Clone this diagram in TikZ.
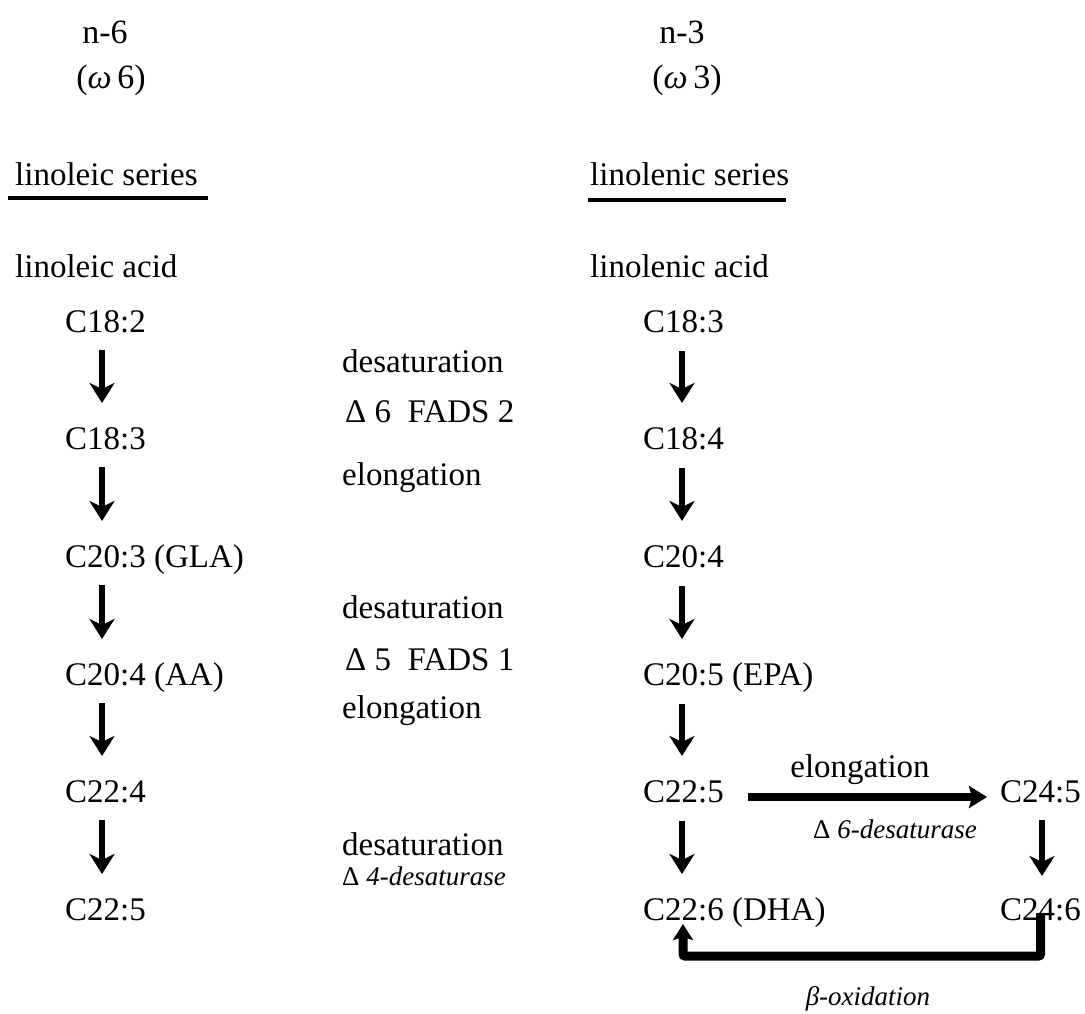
\documentclass[tikz,border=0pt]{standalone}
\usepackage{fontspec}
\setmainfont{Liberation Serif}
\usetikzlibrary{arrows.meta}
\begin{document}
\begin{tikzpicture}[x=1pt,y=-1pt,
  txt/.style={inner sep=0pt, anchor=base west, font=\fontsize{33}{40}\selectfont},
  hdr/.style={inner sep=0pt, anchor=base, font=\fontsize{34}{40}\selectfont},
  small/.style={inner sep=0pt, anchor=base west, font=\fontsize{27}{32}\selectfont},
  varr/.style={line width=6pt, -{Stealth[length=20pt,width=25pt,inset=6pt]}},
  harr/.style={line width=8pt, -{Stealth[length=18pt,width=22pt,inset=3pt]}},
  larr/.style={line width=9pt, rounded corners=2pt, -{Stealth[length=16pt,width=20pt,inset=3pt]}},
  uline/.style={line width=3.5pt}]
\useasboundingbox (0,0) rectangle (1085,1013);

% headers
\node[hdr] (n6) at (105,43) {n-6};
\node[hdr] (w6) at (111,88) {(\textit{ω}\,6)};
\node[hdr] (n3) at (682,43) {n-3};
\node[hdr] (w3) at (687,88) {(\textit{ω}\,3)};

\node[txt] (ls) at (15,185) {linoleic series};
\node[txt] (lns) at (590,185) {linolenic series};
\draw[uline] ([shift={(-7,13)}]ls.base west) -- ([shift={(10,13)}]ls.base east);
\draw[uline] ([shift={(-2,15)}]lns.base west) -- ([shift={(-3,15)}]lns.base east);

\node[txt] (la) at (15,277) {linoleic acid};
\node[txt] (lna) at (590,277) {linolenic acid};

% left chain
\node[txt] (L1) at (65,332) {C18:2};
\node[txt] (L2) at (65,449) {C18:3};
\node[txt] (L3) at (65,567) {C20:3 (GLA)};
\node[txt] (L4) at (65,685) {C20:4 (AA)};
\node[txt] (L5) at (65,802) {C22:4};
\node[txt] (L6) at (65,920) {C22:5};
\foreach \a/\b in {L1/L2,L2/L3,L3/L4,L4/L5,L5/L6}
  \draw[varr] ([shift={(37,18)}]\a.base west) -- ([shift={(37,-46)}]\b.base west);

% middle labels
\node[txt] (des1) at (342,372) {desaturation};
\node[txt] (fads2) at (345,422) {Δ 6\hspace{0.5em}FADS 2};
\node[txt] (elo1) at (342,485) {elongation};
\node[txt] (des2) at (342,618) {desaturation};
\node[txt] (fads1) at (345,670) {Δ 5\hspace{0.5em}FADS 1};
\node[txt] (elo2) at (342,718) {elongation};
\node[txt] (des3) at (342,855) {desaturation};
\node[small] (d4) at (342,885) {Δ \textit{4-desaturase}};

% right chain
\node[txt] (R1) at (643,332) {C18:3};
\node[txt] (R2) at (643,449) {C18:4};
\node[txt] (R3) at (643,567) {C20:4};
\node[txt] (R4) at (643,685) {C20:5 (EPA)};
\node[txt] (R5) at (643,802) {C22:5};
\node[txt] (R6) at (643,920) {C22:6 (DHA)};
\foreach \a/\b in {R1/R2,R2/R3,R3/R4,R4/R5,R5/R6}
  \draw[varr] ([shift={(39,19)}]\a.base west) -- ([shift={(39,-46)}]\b.base west);

\node[txt] (C245) at (1000,802) {C24:5};
\node[txt] (C246) at (1000,920) {C24:6};
\draw[varr] ([shift={(42,18)}]C245.base west) -- ([shift={(42,-44)}]C246.base west);

\draw[harr] ([shift={(24,-5)}]R5.base east) -- ([shift={(-13,-5)}]C245.base west);
\node[txt, anchor=base] (elo3) at (860,777) {elongation};
\node[small] (d6) at (813,838) {Δ \textit{6-desaturase}};

\draw[larr] ([yshift=7]C246.base) -- ++(0,43) -| ([shift={(40,4)}]R6.base west);
\node[small, anchor=base] (box) at (868,1005) {\textit{β-oxidation}};
\end{tikzpicture}
\end{document}
